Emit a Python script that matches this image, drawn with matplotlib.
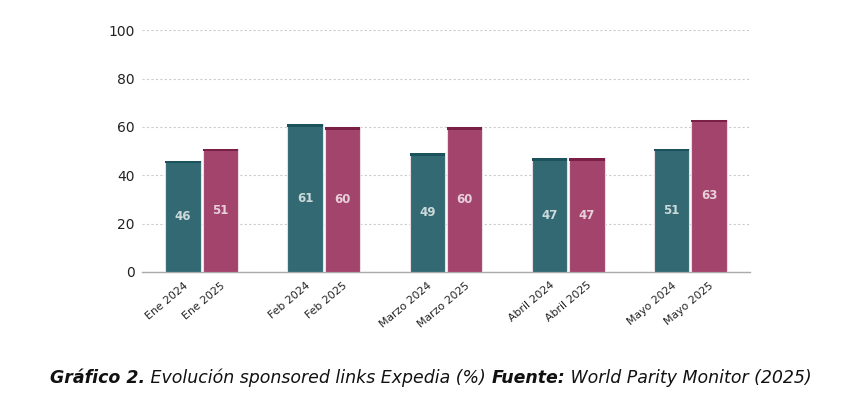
import matplotlib.pyplot as plt
import numpy as np

# data
months = ['Ene', 'Feb', 'Marzo', 'Abril', 'Mayo']
vals_2024 = [46, 61, 49, 47, 51]
vals_2025 = [51, 60, 60, 47, 63]

teal = '#336973'
teal_dark = '#1c525b'
pink = '#a3446d'
pink_dark = '#7a1f45'

plt.rcParams['font.family'] = ['DejaVu Sans']

fig = plt.figure(figsize=(8.44, 3.97), dpi=100)
ax = fig.add_axes([0.168, 0.315, 0.721, 0.609])

x = np.arange(len(months))
w = 0.29
off = w / 2 + 0.008
cap = 1.1

for xs, vals, col, dark in [(x - off, vals_2024, teal, teal_dark),
                            (x + off, vals_2025, pink, pink_dark)]:
    ax.bar(xs, vals, width=w, color=col, edgecolor='#e8dde2', linewidth=0.8, zorder=3)
    ax.bar(xs, [cap] * len(vals), bottom=[v - cap for v in vals], width=w,
           color=dark, linewidth=0, zorder=4)
    for xi, v in zip(xs, vals):
        ax.text(xi, v / 2, str(v), ha='center', va='center', color='white', alpha=0.75,
                fontsize=8.5, fontweight='bold', zorder=5)

ax.set_ylim(0, 100)
ax.set_xlim(-0.49, 4.49)
ax.set_yticks([0, 20, 40, 60, 80, 100])
ax.tick_params(axis='y', length=0, labelsize=10, colors='#222222', pad=5)
ax.yaxis.grid(True, linestyle=(0, (2, 2)), color='#cccccc', linewidth=0.8, zorder=0)

ticks = list(x - off) + list(x + off)
labels = [m + ' 2024' for m in months] + [m + ' 2025' for m in months]
ax.set_xticks(ticks)
ax.set_xticklabels(labels, rotation=40, ha='right', rotation_mode='anchor', fontsize=7.8,
                   color='#222222')
ax.tick_params(axis='x', length=0, pad=6)

for s in ['top', 'right', 'left']:
    ax.spines[s].set_visible(False)
ax.spines['bottom'].set_color('#aaaaaa')
ax.spines['bottom'].set_linewidth(1.0)

# caption built from pieces
parts = [('Gráfico 2.', 'bold'), (' Evolución sponsored links Expedia (%) ', 'normal'),
         ('Fuente:', 'bold'), (' World Parity Monitor (2025)', 'normal')]
fig.canvas.draw()
r = fig.canvas.get_renderer()
xpos = 50 / 844
for txt, wt in parts:
    t = fig.text(xpos, 1 - 378 / 397, txt, fontsize=12.55, style='italic', fontweight=wt,
                 va='center', ha='left', color='#111111')
    bb = t.get_window_extent(renderer=r)
    xpos += bb.width / fig.bbox.width

plt.savefig('out.png', dpi=100)
